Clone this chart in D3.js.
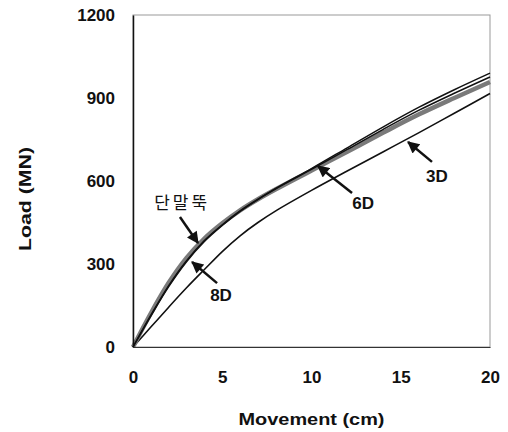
<!DOCTYPE html>
<html>
<head>
<meta charset="utf-8">
<script src="https://cdn.jsdelivr.net/npm/d3@7"></script>
<style>
  body { margin: 0; background: #fff; }
  text { font-family: Arial, "Liberation Sans", sans-serif; font-weight: bold; fill: #111; }
</style>
</head>
<body>
<script>
var movement = [0, 1, 2, 3, 4, 5, 6, 7, 8, 10, 12, 14, 16, 18, 20];

// load (MN) for each curve
var loadSingle = [0, 122, 232, 322, 392, 447, 494, 534, 570, 638, 706, 774, 840, 900, 958];
var load8D     = [0, 112, 218, 308, 381, 439, 490, 533, 573, 645, 720, 795, 866, 930, 990];
var load6D     = [0, 115, 222, 312, 385, 442, 492, 534, 572, 642, 714, 786, 855, 917, 976];
var load3D     = [0, 72, 144, 214, 280, 345, 402, 450, 492, 566, 636, 705, 774, 845, 916];

var xTicks = [0, 5, 10, 15, 20];
var yTicks = [0, 300, 600, 900, 1200];

// annotation labels: [text, label x, label y, tail x, tail y, tip x, tip y] in data units
var notes = [
  ["단말뚝", 2.75, 520, 2.63, 470, 3.64, 376],
  ["8D", 4.93, 188, 4.71, 231, 3.31, 307],
  ["6D", 12.89, 520, 12.27, 557, 10.36, 654],
  ["3D", 17.03, 618, 16.75, 669, 15.41, 741]
];

var margin = {top: 15, right: 18, bottom: 85, left: 133},
    width = 508 - margin.left - margin.right,
    height = 432 - margin.top - margin.bottom;

var svg = d3.select("body").append("svg")
    .attr("width", 508)
    .attr("height", 432)
  .append("g")
    .attr("transform", "translate(" + margin.left + "," + margin.top + ")");

var x = d3.scaleLinear().domain([0, 20]).range([0, width]);
var y = d3.scaleLinear().domain([0, 1200]).range([height, 0]);

// frame
svg.append("rect")
    .attr("width", width).attr("height", height)
    .attr("fill", "none").attr("stroke", "#999").attr("stroke-width", 1);

var line = d3.line()
    .x(function(d) { return x(d[0]); })
    .y(function(d) { return y(d[1]); })
    .curve(d3.curveCatmullRom.alpha(0.5));

function pairs(vals) { return movement.map(function(m, i) { return [m, vals[i]]; }); }

// 3D, 6D, 8D thin black curves, single pile drawn as a thick grey band
svg.append("path").datum(pairs(load3D)).attr("d", line)
    .attr("fill", "none").attr("stroke", "#111").attr("stroke-width", 1.6);
svg.append("path").datum(pairs(loadSingle)).attr("d", line)
    .attr("fill", "none").attr("stroke", "#7a7a7a").attr("stroke-width", 4.5);
svg.append("path").datum(pairs(load6D)).attr("d", line)
    .attr("fill", "none").attr("stroke", "#111").attr("stroke-width", 1.5);
svg.append("path").datum(pairs(load8D)).attr("d", line)
    .attr("fill", "none").attr("stroke", "#111").attr("stroke-width", 1.5);

// axes
var xAxis = svg.append("g")
    .attr("transform", "translate(0," + height + ")")
    .call(d3.axisBottom(x).tickValues(xTicks).tickSize(0).tickPadding(24));
var yAxis = svg.append("g")
    .call(d3.axisLeft(y).tickValues(yTicks).tickFormat(d3.format("d")).tickSize(0).tickPadding(18));
xAxis.select(".domain").attr("stroke", "#333").attr("stroke-width", 1);
yAxis.select(".domain").attr("stroke", "#111").attr("stroke-width", 1.5);
svg.selectAll(".tick text")
    .style("font-family", "Arial, 'Liberation Sans', sans-serif")
    .style("font-weight", "bold").style("font-size", "17px").attr("fill", "#111");

svg.append("text")
    .attr("x", width / 2).attr("y", height + 78)
    .attr("text-anchor", "middle").style("font-size", "16px")
    .attr("textLength", 146).attr("lengthAdjust", "spacingAndGlyphs")
    .text("Movement (cm)");

svg.append("text")
    .attr("transform", "translate(" + (25 - margin.left) + "," + (199 - margin.top) + ") rotate(-90)")
    .attr("text-anchor", "middle").attr("dy", "0.35em").style("font-size", "16px")
    .attr("textLength", 104).attr("lengthAdjust", "spacingAndGlyphs")
    .text("Load (MN)");

// arrows
svg.append("defs").append("marker")
    .attr("id", "head").attr("viewBox", "0 0 10 10")
    .attr("refX", 9).attr("refY", 5)
    .attr("markerUnits", "userSpaceOnUse")
    .attr("markerWidth", 13).attr("markerHeight", 12)
    .attr("orient", "auto")
  .append("path").attr("d", "M0,0 L10,5 L0,10 Z").attr("fill", "#111");

notes.forEach(function(n) {
  svg.append("line")
      .attr("x1", x(n[3])).attr("y1", y(n[4]))
      .attr("x2", x(n[5])).attr("y2", y(n[6]))
      .attr("stroke", "#111").attr("stroke-width", 2.5)
      .attr("marker-end", "url(#head)");
  var t = svg.append("text")
      .attr("x", x(n[1])).attr("y", y(n[2]))
      .attr("text-anchor", "middle").attr("dy", "0.35em")
      .text(n[0]);
  if (n[0] === "단말뚝") {
    t.style("font-family", "'Noto Sans CJK KR', sans-serif")
     .style("font-weight", "normal").style("font-size", "17px")
     .style("letter-spacing", "3px");
  } else {
    t.style("font-size", "17px");
  }
});
</script>
</body>
</html>
